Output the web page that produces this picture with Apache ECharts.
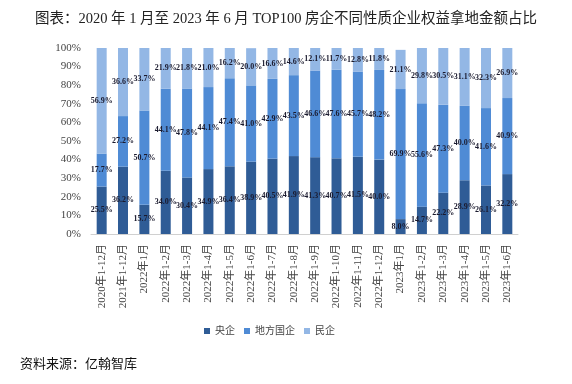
<!DOCTYPE html>
<html><head><meta charset="utf-8">
<script src="https://cdn.jsdelivr.net/npm/echarts@6/dist/echarts.min.js"></script>
<style>html,body{margin:0;padding:0;background:#fff}#c{width:572px;height:384px}</style>
</head><body><div id="c"></div>
<script>
const categories = ['2020年1-12月','2021年1-12月','2022年1月','2022年1-2月','2022年1-3月','2022年1-4月','2022年1-5月','2022年1-6月','2022年1-7月','2022年1-8月','2022年1-9月','2022年1-10月','2022年1-11月','2022年1-12月','2023年1月','2023年1-2月','2023年1-3月','2023年1-4月','2023年1-5月','2023年1-6月'];
const central = [25.5,36.2,15.7,34.0,30.4,34.9,36.4,38.9,40.5,41.9,41.3,40.7,41.5,40.0,8.0,14.7,22.2,28.9,26.1,32.2];
const localSOE = [17.7,27.2,50.7,44.1,47.8,44.1,47.4,41.0,42.9,43.5,46.6,47.6,45.7,48.2,69.9,55.6,47.3,40.0,41.6,40.9];
const privateE = [56.9,36.6,33.7,21.9,21.8,21.0,16.2,20.0,16.6,14.6,12.1,11.7,12.8,11.8,21.1,29.8,30.5,31.1,32.3,26.9];
const seriesNames = ['央企','地方国企','民企'];
const yTicks = [0,10,20,30,40,50,60,70,80,90,100];

const serif = '"Liberation Serif","Noto Sans CJK SC",serif';
const colors = ['#2F5C96','#4F8BD5','#93B7E5'];
const lbl = {show:true,position:'inside',formatter:p=>p.value.toFixed(1)+'%',fontFamily:serif,fontSize:8,fontWeight:'bold',color:'#1a1a2e'};
const chart = echarts.init(document.getElementById('c'));
chart.setOption({
  animation:false,
  title:[{text:'图表：2020 年 1 月至 2023 年 6 月 TOP100 房企不同性质企业权益拿地金额占比',left:'center',top:7,textStyle:{fontFamily:serif,fontSize:14.5,fontWeight:'normal',color:'#222'}},
         {text:'资料来源：亿翰智库',left:15,top:353,textStyle:{fontFamily:serif,fontSize:13,fontWeight:'normal',color:'#111'}}],
  legend:{data:seriesNames,top:321,left:199,itemWidth:6,itemHeight:6,itemGap:9,icon:'rect',textStyle:{fontFamily:serif,fontSize:10,color:'#444'}},
  grid:{left:91,right:54,top:48,bottom:150},
  xAxis:{type:'category',data:categories,axisLine:{lineStyle:{color:'#d0d0d0'}},axisTick:{show:false},
    axisLabel:{rotate:90,fontFamily:serif,fontSize:11,color:'#444',interval:0,margin:10}},
  yAxis:{type:'value',min:0,max:100,interval:10,splitLine:{show:false},axisLine:{show:false},axisTick:{show:false},
    axisLabel:{formatter:v=>v+'%',fontFamily:serif,fontSize:11,color:'#444',margin:10}},
  series:[
    {name:seriesNames[0],type:'bar',stack:'a',data:central,barWidth:10,itemStyle:{color:colors[0]},label:lbl},
    {name:seriesNames[1],type:'bar',stack:'a',data:localSOE,barWidth:10,itemStyle:{color:colors[1]},label:lbl},
    {name:seriesNames[2],type:'bar',stack:'a',data:privateE,barWidth:10,itemStyle:{color:colors[2]},label:lbl}
  ]
});
</script></body></html>
